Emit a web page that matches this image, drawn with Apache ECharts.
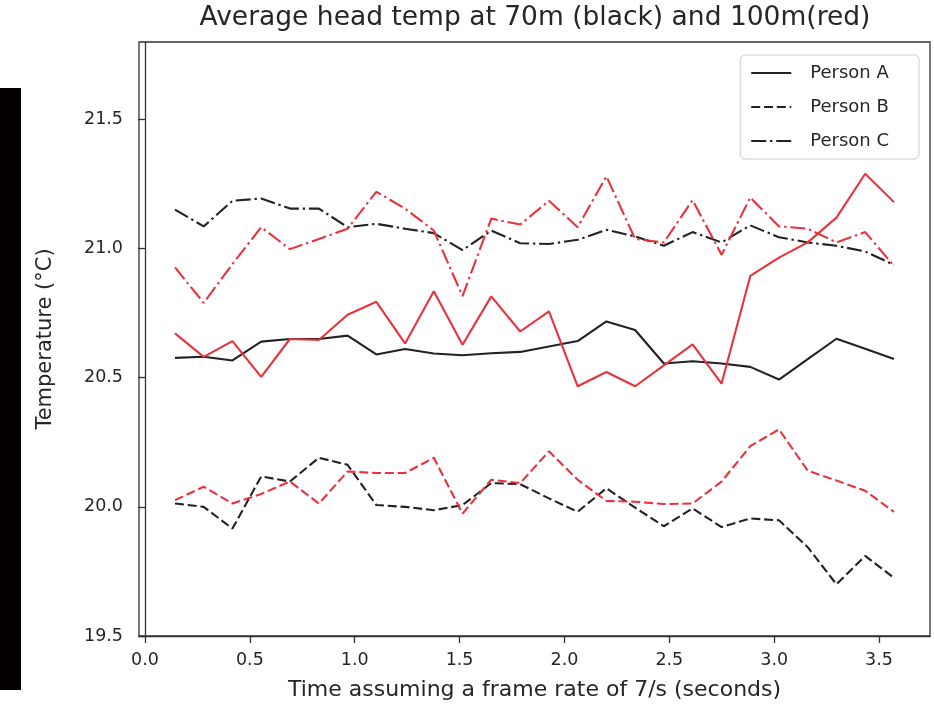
<!DOCTYPE html>
<html>
<head>
<meta charset="utf-8">
<title>Average head temp</title>
<script src="https://cdn.jsdelivr.net/npm/echarts@6/dist/echarts.min.js"></script>
<style>
  html, body { margin: 0; padding: 0; background: #ffffff; }
  #chart { width: 934px; height: 717px; }
</style>
</head>
<body>
<div id="chart"></div>
<script>
// Sample times (seconds)
const times = [0.143, 0.280, 0.417, 0.554, 0.691, 0.829, 0.966, 1.103, 1.240, 1.377,
               1.514, 1.651, 1.789, 1.926, 2.063, 2.200, 2.337, 2.474, 2.611, 2.749,
               2.886, 3.023, 3.160, 3.297, 3.434, 3.571];

// Average head temperature at 70 m (black lines)
const personA70 = [20.577, 20.581, 20.567, 20.640, 20.650, 20.650, 20.663, 20.590, 20.611, 20.594,
                   20.587, 20.595, 20.600, 20.621, 20.642, 20.718, 20.685, 20.555, 20.564, 20.555,
                   20.542, 20.493, 20.572, 20.651, 20.612, 20.573];
const personB70 = [20.013, 20.000, 19.916, 20.118, 20.098, 20.190, 20.163, 20.007, 20.000, 19.987,
                   20.007, 20.092, 20.088, 20.033, 19.981, 20.072, 19.997, 19.925, 19.994, 19.922,
                   19.955, 19.948, 19.844, 19.700, 19.810, 19.725];
const personC70 = [21.151, 21.086, 21.185, 21.194, 21.155, 21.155, 21.083, 21.096, 21.077, 21.060,
                   20.994, 21.070, 21.021, 21.018, 21.034, 21.073, 21.047, 21.011, 21.064, 21.024,
                   21.090, 21.044, 21.024, 21.011, 20.989, 20.937];

// Average head temperature at 100 m (red lines)
const personA100 = [20.672, 20.581, 20.642, 20.503, 20.650, 20.646, 20.744, 20.794, 20.633, 20.835,
                    20.628, 20.815, 20.679, 20.757, 20.467, 20.522, 20.467, 20.548, 20.629, 20.477,
                    20.894, 20.965, 21.024, 21.120, 21.290, 21.180];
const personB100 = [20.026, 20.078, 20.013, 20.050, 20.098, 20.013, 20.137, 20.131, 20.131, 20.190,
                    19.974, 20.105, 20.092, 20.215, 20.105, 20.023, 20.020, 20.011, 20.013, 20.098,
                    20.235, 20.300, 20.140, 20.102, 20.062, 19.981];
const personC100 = [20.927, 20.790, 20.940, 21.083, 20.998, 21.037, 21.077, 21.220, 21.155, 21.070,
                    20.816, 21.116, 21.093, 21.185, 21.083, 21.280, 21.037, 21.024, 21.188, 20.976,
                    21.198, 21.086, 21.077, 21.024, 21.064, 20.933];

const xTicks = [0.0, 0.5, 1.0, 1.5, 2.0, 2.5, 3.0, 3.5];
const yTicks = [19.5, 20.0, 20.5, 21.0, 21.5];

const legendNames = ['Person A', 'Person B', 'Person C'];

const BLACK = '#222222';
const RED = '#e8323e';
const SOLID = 'solid';
const DASHED = [9, 3.8];
const DASHDOT = [15, 3.8, 2.4, 3.8];

function pairs(values) {
  return values.map((v, i) => [times[i], v]);
}

function lineSeries(name, values, color, dash) {
  return {
    name: name,
    type: 'line',
    data: pairs(values),
    symbol: 'none',
    silent: true,
    animation: false,
    lineStyle: { color: color, width: 2.1, type: dash },
    itemStyle: { color: color },
    z: color === RED ? 3 : 2
  };
}

const FONT = 'DejaVu Sans';
const TEXT = '#262626';
const AXIS = '#333333';

const chart = echarts.init(document.getElementById('chart'), null, { renderer: 'canvas' });

chart.setOption({
  backgroundColor: '#ffffff',
  animation: false,
  textStyle: { fontFamily: FONT },
  grid: {
    left: 139, right: 4, top: 42, bottom: 81,
    show: true, borderColor: AXIS, borderWidth: 1.3,
    backgroundColor: 'transparent', containLabel: false
  },
  graphic: [
    {
      type: 'rect', left: 0, top: 88, silent: true,
      shape: { width: 21, height: 602 },
      style: { fill: '#050000' }
    },
    {
      type: 'text', x: 535, y: 18, silent: true,
      style: {
        text: 'Average head temp at 70m (black) and 100m(red)',
        fontFamily: FONT, fontSize: 26.5, fill: TEXT,
        align: 'center', verticalAlign: 'middle'
      }
    }
  ],
  legend: {
    data: legendNames,
    orient: 'vertical',
    right: 15, top: 55,
    itemWidth: 40, itemHeight: 20, itemGap: 16,
    padding: [9, 30, 9, 10],
    backgroundColor: 'rgba(255,255,255,0.85)',
    borderColor: '#cccccc', borderWidth: 1, borderRadius: 5,
    itemStyle: { color: 'transparent', borderWidth: 0, opacity: 0 },
    textStyle: { fontFamily: FONT, fontSize: 18, color: TEXT, padding: [0, 0, 0, 14] },
    selectedMode: false
  },
  xAxis: {
    type: 'value',
    min: -0.0286, max: 3.743,
    name: 'Time assuming a frame rate of 7/s (seconds)',
    nameLocation: 'middle', nameGap: 43,
    nameTextStyle: { fontFamily: FONT, fontSize: 22, color: TEXT },
    axisLine: { show: true, onZero: false, lineStyle: { color: AXIS, width: 1.3 } },
    axisTick: { show: true, length: 7, inside: false, customValues: xTicks,
                lineStyle: { color: AXIS, width: 1.3 } },
    axisLabel: { customValues: xTicks, margin: 15, fontFamily: FONT, fontSize: 17.5, color: TEXT,
                 formatter: v => v.toFixed(1) },
    splitLine: { show: false }
  },
  yAxis: {
    type: 'value',
    min: 19.5, max: 21.8,
    name: 'Temperature (°C)',
    nameLocation: 'middle', nameGap: 83, nameRotate: 90,
    nameTextStyle: { fontFamily: FONT, fontSize: 21, color: TEXT },
    axisLine: { show: true, lineStyle: { color: AXIS, width: 1.3 } },
    axisTick: { show: true, length: 7, inside: false, customValues: yTicks,
                lineStyle: { color: AXIS, width: 1.3 } },
    axisLabel: { customValues: yTicks, margin: 16, fontFamily: FONT, fontSize: 17.5, color: TEXT,
                 formatter: v => v.toFixed(1) },
    splitLine: { show: false }
  },
  series: [
    lineSeries('Person A', personA70, BLACK, SOLID),
    lineSeries('Person B', personB70, BLACK, DASHED),
    lineSeries('Person C', personC70, BLACK, DASHDOT),
    lineSeries('Person A 100m', personA100, RED, SOLID),
    lineSeries('Person B 100m', personB100, RED, DASHED),
    lineSeries('Person C 100m', personC100, RED, DASHDOT)
  ]
});
</script>
</body>
</html>
